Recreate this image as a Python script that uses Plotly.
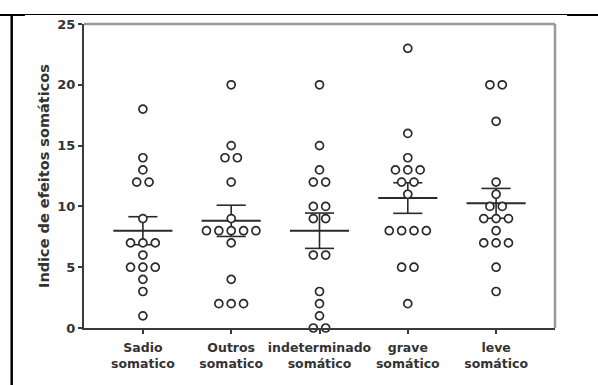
import numpy as np
import plotly.graph_objects as go

categories = ["Sadio<br>somatico", "Outros<br>somatico", "indeterminado<br>somático",
              "grave<br>somático", "leve<br>somático"]
sadio = [18, 14, 13, 12, 12, 9, 7, 7, 7, 6, 5, 5, 5, 4, 3, 1]
outros = [20, 15, 14, 14, 12, 9, 8, 8, 8, 8, 8, 7, 4, 2, 2, 2]
indeterminado = [20, 15, 13, 12, 12, 10, 10, 9, 9, 6, 6, 3, 2, 1, 0, 0]
grave = [23, 16, 14, 13, 13, 13, 12, 12, 11, 8, 8, 8, 8, 5, 5, 2]
leve = [20, 20, 17, 12, 11, 10, 10, 9, 9, 9, 8, 7, 7, 7, 5, 3]
y_ticks = [0, 5, 10, 15, 20, 25]

groups = [sadio, outros, indeterminado, grave, leve]

W, H = 598, 385
ML, MR, MT, MB = 84, 43, 24, 57
PW, PH = W - ML - MR, H - MT - MB

def px(x):
    return (x - ML) / PW

def py(y):
    return (H - MB - y) / PH

def swarm(vals, spacing):
    counts = {}
    for v in vals:
        counts[v] = counts.get(v, 0) + 1
    seen = {}
    offs = []
    for v in vals:
        k = counts[v]
        j = seen.get(v, 0)
        offs.append((j - (k - 1) / 2) * spacing)
        seen[v] = j + 1
    return offs

fig = go.Figure()
ink = "#2a2a2a"
mean_hw = 0.335
cap_hw = 0.165

for i, vals in enumerate(groups):
    arr = np.array(vals, dtype=float)
    m = arr.mean()
    sem = arr.std(ddof=1) / np.sqrt(len(arr))
    fig.add_trace(go.Scatter(x=[i - mean_hw, i + mean_hw], y=[m, m], mode="lines",
                             line=dict(color=ink, width=2), showlegend=False, hoverinfo="skip"))
    fig.add_trace(go.Scatter(x=[i, i], y=[m - sem, m + sem], mode="lines",
                             line=dict(color=ink, width=1.6), showlegend=False, hoverinfo="skip"))
    for c in (m - sem, m + sem):
        fig.add_trace(go.Scatter(x=[i - cap_hw, i + cap_hw], y=[c, c], mode="lines",
                                 line=dict(color=ink, width=1.6), showlegend=False, hoverinfo="skip"))

for i, vals in enumerate(groups):
    offs = swarm(vals, 0.14)
    fig.add_trace(go.Scatter(x=[i + o for o in offs], y=vals, mode="markers",
                             marker=dict(symbol="circle", size=8, color="white",
                                         line=dict(color=ink, width=1.7)),
                             showlegend=False, cliponaxis=False))

tick_font = dict(family="DejaVu Sans", size=12.5, color="#333", weight="bold")

fig.update_layout(
    width=W, height=H,
    margin=dict(l=ML, r=MR, t=MT, b=MB, pad=0),
    paper_bgcolor="white", plot_bgcolor="white",
    xaxis=dict(range=[-0.667, 4.667], tickmode="array", tickvals=list(range(5)),
               ticktext=categories, showgrid=False, zeroline=False,
               showline=True, linecolor="#3a3a3a", linewidth=2,
               ticks="outside", ticklen=4, tickwidth=1.5, tickcolor="#3a3a3a",
               ticklabelstandoff=3, tickfont=tick_font),
    yaxis=dict(range=[0, 25], tickmode="array", tickvals=y_ticks,
               ticktext=[str(t) for t in y_ticks], showgrid=False, zeroline=False,
               showline=True, linecolor="#3a3a3a", linewidth=2,
               ticks="outside", ticklen=4, tickwidth=1.5, tickcolor="#3a3a3a",
               tickfont=dict(family="DejaVu Sans", size=13, color="#333", weight="bold")),
    font=dict(family="DejaVu Sans"),
)

fig.add_shape(type="line", xref="paper", yref="paper", x0=0, x1=1, y0=1, y1=1,
              line=dict(color="#999", width=2.5))
fig.add_shape(type="line", xref="paper", yref="paper", x0=1, x1=1, y0=0, y1=1,
              line=dict(color="#999", width=2.5))

fig.add_shape(type="line", xref="paper", yref="paper", x0=px(0), x1=px(W), y0=py(14.5), y1=py(14.5),
              line=dict(color="black", width=1))
fig.add_shape(type="line", xref="paper", yref="paper", x0=px(0), x1=px(25), y0=py(15), y1=py(15),
              line=dict(color="black", width=2))
fig.add_shape(type="line", xref="paper", yref="paper", x0=px(567), x1=px(W), y0=py(15), y1=py(15),
              line=dict(color="black", width=2))
fig.add_shape(type="line", xref="paper", yref="paper", x0=px(11.7), x1=px(11.7), y0=py(14), y1=py(H),
              line=dict(color="black", width=2.5))

fig.add_annotation(text="Indice de efeitos somáticos", xref="paper", yref="paper",
                   x=px(44), y=0.5, xanchor="center", yanchor="middle", textangle=-90,
                   showarrow=False,
                   font=dict(family="DejaVu Sans", size=14.5, color="#333", weight="bold"))

fig.write_html("out.html")
